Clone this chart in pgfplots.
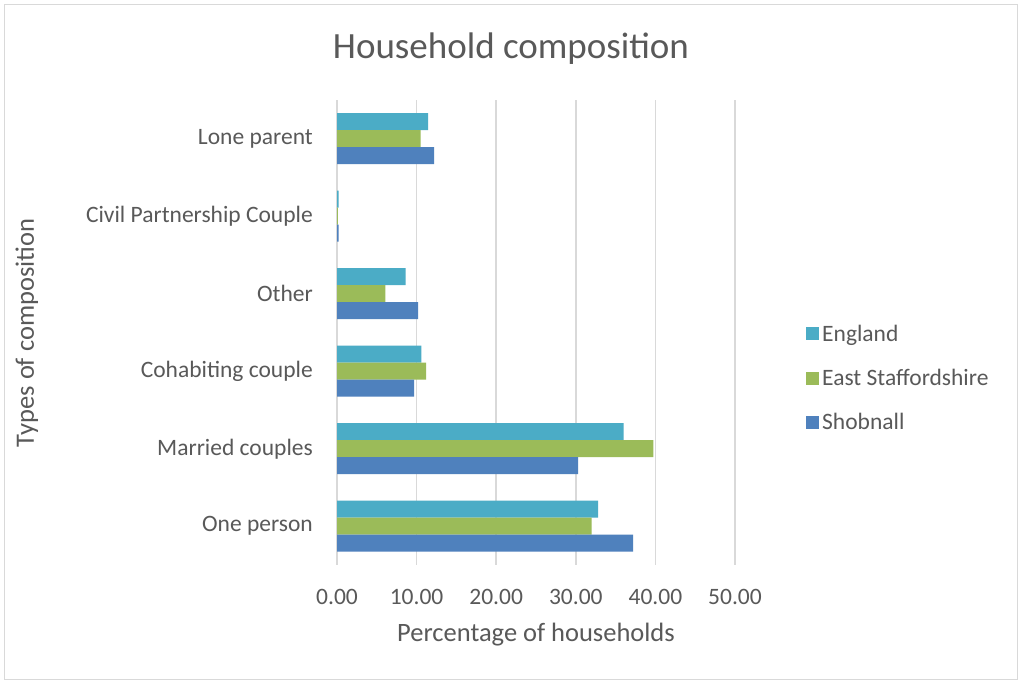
\documentclass[border=0pt]{standalone}
\usepackage{pgfplots}
\pgfplotsset{compat=1.18}
\usepackage{fontspec}
\setmainfont{Carlito}
\definecolor{engc}{HTML}{4BACC6}
\definecolor{esc}{HTML}{9BBB59}
\definecolor{shc}{HTML}{4F81BD}
\definecolor{txt}{HTML}{595959}
\definecolor{gridc}{HTML}{D9D9D9}
\begin{document}
\begin{tikzpicture}
\fill[white] (0pt,0pt) rectangle (1022pt,684pt);
\draw[gridc, line width=1pt] (4.5pt,4.5pt) rectangle (1017.5pt,679.5pt);
\node[text=txt, font=\fontsize{37}{44}\selectfont] at (511pt,635pt) {Household composition};
\begin{axis}[
  at={(337pt,119pt)}, anchor=south west,
  scale only axis, width=398pt, height=465pt,
  xbar, bar width=17pt,
  xmin=0, xmax=50, ymin=-0.5, ymax=5.5,
  xtick={0,10,...,50}, ytick={0,...,5},
  yticklabels={One person, Married couples, Cohabiting couple, Other, Civil Partnership Couple, Lone parent},
  axis line style={draw=none},
  major tick length=0pt,
  tick style={draw=none},
  xmajorgrids, grid style={gridc, line width=1.6pt},
  /pgf/number format/assume math mode=true,
  xticklabel style={/pgf/number format/.cd, fixed, fixed zerofill, precision=2, /tikz/.cd,
    anchor=center, yshift=-32pt, font=\fontsize{23.5}{28}\selectfont, text=txt},
  yticklabel style={anchor=east, inner sep=0pt, xshift=-24pt, font=\fontsize{23.5}{28}\selectfont, text=txt},
  xlabel={Percentage of households},
  ylabel={Types of composition},
  label style={font=\fontsize{26.5}{32}\selectfont, text=txt},
  xlabel style={at={(axis description cs:0.5,-0.1505)}, anchor=center},
  ylabel style={at={(axis description cs:-0.779,0.499)}, anchor=center},
  legend style={draw=none, fill=none, at={(axis description cs:1.1784,0.402)}, anchor=west,
    font=\fontsize{23.5}{28}\selectfont, text=txt, inner sep=0pt, row sep=20.5pt,
    nodes={inner sep=3pt}},
  legend cell align=left,
  legend image code/.code={\fill[#1, draw=none] (0pt,-6.5pt) rectangle (13pt,6.5pt);},
]
\addplot[fill=engc, draw=none, bar shift=17pt] coordinates {(32.8,0) (36.0,1) (10.6,2) (8.63,3) (0.2,4) (11.45,5)};
\addplot[fill=esc, draw=none, bar shift=0pt] coordinates {(32.0,0) (39.75,1) (11.2,2) (6.08,3) (0.1,4) (10.5,5)};
\addplot[fill=shc, draw=none, bar shift=-17pt] coordinates {(37.2,0) (30.3,1) (9.7,2) (10.2,3) (0.2,4) (12.2,5)};
\legend{England, East Staffordshire, Shobnall}
\end{axis}
\end{tikzpicture}
\end{document}
